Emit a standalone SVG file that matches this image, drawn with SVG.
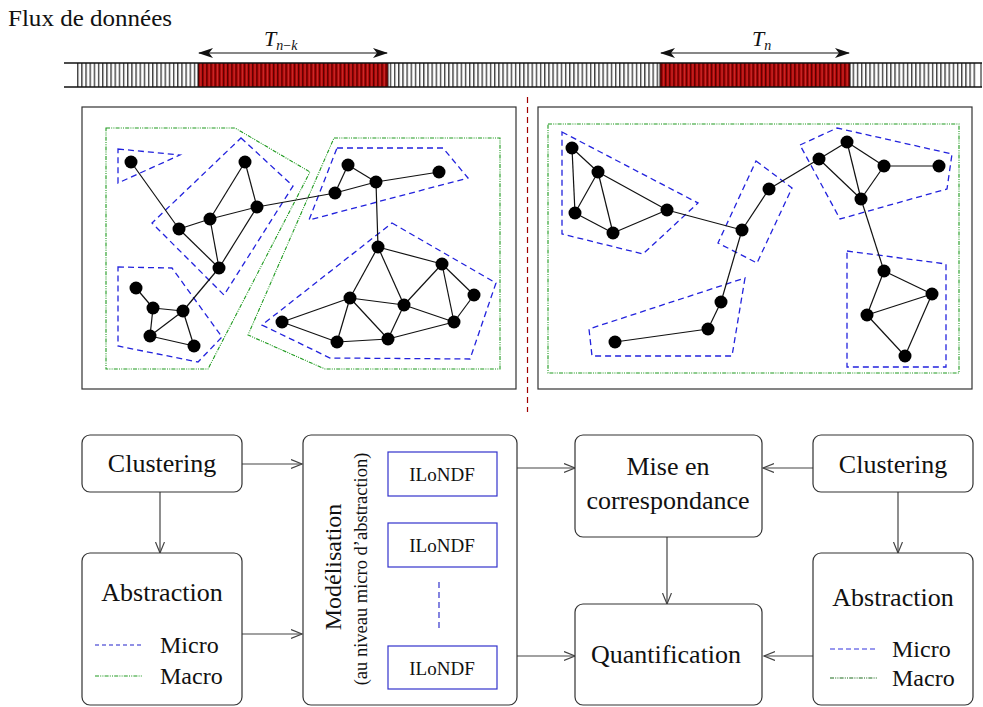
<svg xmlns="http://www.w3.org/2000/svg" width="983" height="707" viewBox="0 0 983 707">
<style>
.t{font-family:"Liberation Serif","Times New Roman",serif;fill:#111}
.box{fill:#fff;stroke:#333;stroke-width:1.2}
.conn{stroke:#444;stroke-width:1.2;fill:none}
.e{stroke:#111;stroke-width:1.2}
.micro{fill:none;stroke:#2222dd;stroke-width:1.3;stroke-dasharray:6,4}
.macro{fill:none;stroke:#1e9a1e;stroke-width:1.1;stroke-dasharray:4,1.2,1,1.2,1,1.2}
.il{fill:#fff;stroke:#3333cc;stroke-width:1.2}
</style>
<defs>
<pattern id="wstripe" patternUnits="userSpaceOnUse" x="77" y="0" width="4.17" height="30">
<rect x="0" y="0" width="4.17" height="30" fill="#fff"/>
<rect x="0" y="0" width="1.8" height="30" fill="#8a8a8a"/>
<rect x="0" y="0" width="0.6" height="30" fill="#222"/>
</pattern>
<pattern id="rstripe" patternUnits="userSpaceOnUse" x="77" y="0" width="4.17" height="30">
<rect x="0" y="0" width="4.17" height="30" fill="#b80a0a"/>
<rect x="0" y="0" width="1.8" height="30" fill="#8e0000"/>
<rect x="2.4" y="0" width="0.6" height="30" fill="#d84040"/>
<rect x="0" y="0" width="0.5" height="30" fill="#300"/>
</pattern>
<marker id="open" markerUnits="userSpaceOnUse" markerWidth="14" markerHeight="12" refX="11" refY="5" orient="auto">
<path d="M0,0.5 L11,5 L0,9.5" fill="none" stroke="#444" stroke-width="1.2"/>
</marker>
<marker id="stealth" markerUnits="userSpaceOnUse" markerWidth="18" markerHeight="12" refX="14" refY="5" orient="auto-start-reverse">
<path d="M0,0 L15,5 L0,10 L4,5 z" fill="#111"/>
</marker>
</defs>
<rect width="983" height="707" fill="#fff"/>

<g id="stream">
<text class="t" x="8" y="26" font-size="24" fill="#333" textLength="164" lengthAdjust="spacingAndGlyphs">Flux de données</text>
<rect x="77" y="63" width="900" height="24" fill="url(#wstripe)"/>
<rect x="198" y="63" width="190" height="24" fill="url(#rstripe)"/>
<rect x="660" y="63" width="190" height="24" fill="url(#rstripe)"/>
<line x1="64" y1="63" x2="982" y2="63" stroke="#111" stroke-width="1.3"/>
<line x1="64" y1="87" x2="982" y2="87" stroke="#111" stroke-width="1.3"/>
<line x1="198" y1="63" x2="198" y2="87" stroke="#111" stroke-width="1"/>
<line x1="388" y1="63" x2="388" y2="87" stroke="#111" stroke-width="1"/>
<line x1="660" y1="63" x2="660" y2="87" stroke="#111" stroke-width="1"/>
<line x1="850" y1="63" x2="850" y2="87" stroke="#111" stroke-width="1"/>
<line x1="981" y1="63" x2="981" y2="87" stroke="#111" stroke-width="1"/>
<line x1="199" y1="53" x2="387" y2="53" stroke="#111" stroke-width="1.2" marker-start="url(#stealth)" marker-end="url(#stealth)"/>
<line x1="661" y1="53" x2="849" y2="53" stroke="#111" stroke-width="1.2" marker-start="url(#stealth)" marker-end="url(#stealth)"/>
<text class="t" x="264" y="46" font-size="22" font-style="italic">T<tspan font-size="14" dy="4">n</tspan><tspan font-size="14" font-style="normal">−</tspan><tspan font-size="14">k</tspan></text>
<text class="t" x="752" y="46" font-size="22" font-style="italic">T<tspan font-size="14" dy="4">n</tspan></text>
<line x1="527.5" y1="97" x2="527.5" y2="412" stroke="#a00000" stroke-width="1.2" stroke-dasharray="6,4"/>
</g>

<g id="graph-left">
<rect x="82" y="107" width="434" height="282" fill="none" stroke="#333" stroke-width="1.2"/>
<polygon class="macro" points="106,128 235,128 310,172 208,369 106,369"/>
<polygon class="macro" points="334,138 500,138 500,369 325,369 248,335"/>
<polygon class="micro" points="118,149 180,155 118,183"/>
<polygon class="micro" points="241,138 293,186 224,295 152,223"/>
<polygon class="micro" points="118,267 172,268 222,337 198,362 118,346"/>
<polygon class="micro" points="337,148 443,148 468,178 309,220"/>
<polygon class="micro" points="392,223 496,283 470,359 330,358 262,325"/>
<g class="e">
<line x1="131" y1="162" x2="179" y2="229"/>
<line x1="179" y1="229" x2="210" y2="219"/>
<line x1="179" y1="229" x2="219" y2="268"/>
<line x1="210" y1="219" x2="245" y2="162"/>
<line x1="210" y1="219" x2="257" y2="207"/>
<line x1="210" y1="219" x2="219" y2="268"/>
<line x1="245" y1="162" x2="257" y2="207"/>
<line x1="257" y1="207" x2="219" y2="268"/>
<line x1="219" y1="268" x2="183" y2="311"/>
<line x1="136" y1="288" x2="153" y2="308"/>
<line x1="153" y1="308" x2="183" y2="311"/>
<line x1="153" y1="308" x2="150" y2="336"/>
<line x1="150" y1="336" x2="183" y2="311"/>
<line x1="183" y1="311" x2="194" y2="346"/>
<line x1="150" y1="336" x2="194" y2="346"/>
<line x1="257" y1="207" x2="335" y2="193"/>
<line x1="335" y1="193" x2="348" y2="165"/>
<line x1="348" y1="165" x2="376" y2="182"/>
<line x1="335" y1="193" x2="376" y2="182"/>
<line x1="376" y1="182" x2="439" y2="172"/>
<line x1="376" y1="182" x2="378" y2="247"/>
<line x1="378" y1="247" x2="442" y2="264"/>
<line x1="378" y1="247" x2="350" y2="298"/>
<line x1="378" y1="247" x2="404" y2="305"/>
<line x1="442" y1="264" x2="404" y2="305"/>
<line x1="442" y1="264" x2="474" y2="295"/>
<line x1="442" y1="264" x2="454" y2="322"/>
<line x1="474" y1="295" x2="454" y2="322"/>
<line x1="350" y1="298" x2="282" y2="322"/>
<line x1="350" y1="298" x2="404" y2="305"/>
<line x1="350" y1="298" x2="337" y2="342"/>
<line x1="350" y1="298" x2="388" y2="339"/>
<line x1="404" y1="305" x2="388" y2="339"/>
<line x1="404" y1="305" x2="454" y2="322"/>
<line x1="282" y1="322" x2="337" y2="342"/>
<line x1="337" y1="342" x2="388" y2="339"/>
<line x1="388" y1="339" x2="454" y2="322"/>
</g>
<g fill="#000">
<circle cx="131" cy="162" r="6.5"/><circle cx="245" cy="162" r="6.5"/><circle cx="257" cy="207" r="6.5"/>
<circle cx="210" cy="219" r="6.5"/><circle cx="179" cy="229" r="6.5"/><circle cx="219" cy="268" r="6.5"/>
<circle cx="136" cy="288" r="6.5"/><circle cx="153" cy="308" r="6.5"/><circle cx="183" cy="311" r="6.5"/>
<circle cx="150" cy="336" r="6.5"/><circle cx="194" cy="346" r="6.5"/><circle cx="282" cy="322" r="6.5"/>
<circle cx="348" cy="165" r="6.5"/><circle cx="335" cy="193" r="6.5"/><circle cx="376" cy="182" r="6.5"/>
<circle cx="439" cy="172" r="6.5"/><circle cx="378" cy="247" r="6.5"/><circle cx="442" cy="264" r="6.5"/>
<circle cx="350" cy="298" r="6.5"/><circle cx="404" cy="305" r="6.5"/><circle cx="474" cy="295" r="6.5"/>
<circle cx="454" cy="322" r="6.5"/><circle cx="337" cy="342" r="6.5"/><circle cx="388" cy="339" r="6.5"/>
</g>
</g>

<g id="graph-right">
<rect x="538" y="107" width="434" height="282" fill="none" stroke="#333" stroke-width="1.2"/>
<rect class="macro" x="548" y="124" width="411" height="249"/>
<polygon class="micro" points="562,132 698,203 643,254 562,234"/>
<polygon class="micro" points="756,161 792,188 757,263 718,243"/>
<polygon class="micro" points="800,145 837,128 952,154 947,189 840,219"/>
<polygon class="micro" points="847,251 946,264 946,367 847,367"/>
<polygon class="micro" points="745,278 732,356 592,356 589,329"/>
<g class="e">
<line x1="572" y1="148" x2="598" y2="172"/>
<line x1="572" y1="148" x2="575" y2="213"/>
<line x1="598" y1="172" x2="575" y2="213"/>
<line x1="598" y1="172" x2="613" y2="233"/>
<line x1="575" y1="213" x2="613" y2="233"/>
<line x1="598" y1="172" x2="667" y2="210"/>
<line x1="613" y1="233" x2="667" y2="210"/>
<line x1="667" y1="210" x2="742" y2="230"/>
<line x1="742" y1="230" x2="721" y2="302"/>
<line x1="721" y1="302" x2="708" y2="329"/>
<line x1="708" y1="329" x2="615" y2="342"/>
<line x1="742" y1="230" x2="769" y2="189"/>
<line x1="769" y1="189" x2="819" y2="159"/>
<line x1="819" y1="159" x2="847" y2="142"/>
<line x1="819" y1="159" x2="861" y2="199"/>
<line x1="847" y1="142" x2="861" y2="199"/>
<line x1="847" y1="142" x2="884" y2="166"/>
<line x1="884" y1="166" x2="861" y2="199"/>
<line x1="884" y1="166" x2="939" y2="166"/>
<line x1="861" y1="199" x2="884" y2="271"/>
<line x1="884" y1="271" x2="932" y2="294"/>
<line x1="884" y1="271" x2="867" y2="315"/>
<line x1="867" y1="315" x2="932" y2="294"/>
<line x1="867" y1="315" x2="905" y2="356"/>
<line x1="932" y1="294" x2="905" y2="356"/>
</g>
<g fill="#000">
<circle cx="572" cy="148" r="6.5"/><circle cx="598" cy="172" r="6.5"/><circle cx="575" cy="213" r="6.5"/>
<circle cx="613" cy="233" r="6.5"/><circle cx="667" cy="210" r="6.5"/><circle cx="742" cy="230" r="6.5"/>
<circle cx="721" cy="302" r="6.5"/><circle cx="708" cy="329" r="6.5"/><circle cx="615" cy="342" r="6.5"/>
<circle cx="769" cy="189" r="6.5"/><circle cx="819" cy="159" r="6.5"/><circle cx="847" cy="142" r="6.5"/>
<circle cx="884" cy="166" r="6.5"/><circle cx="939" cy="166" r="6.5"/><circle cx="861" cy="199" r="6.5"/>
<circle cx="884" cy="271" r="6.5"/><circle cx="932" cy="294" r="6.5"/><circle cx="867" cy="315" r="6.5"/>
<circle cx="905" cy="356" r="6.5"/>
</g>
</g>

<g id="connectors">
<line class="conn" x1="160" y1="492" x2="160" y2="553" marker-end="url(#open)"/>
<line class="conn" x1="242" y1="464" x2="302" y2="464" marker-end="url(#open)"/>
<line class="conn" x1="242" y1="634" x2="302" y2="634" marker-end="url(#open)"/>
<line class="conn" x1="517" y1="468" x2="575" y2="468" marker-end="url(#open)"/>
<line class="conn" x1="517" y1="656" x2="575" y2="656" marker-end="url(#open)"/>
<line class="conn" x1="813" y1="468" x2="763" y2="468" marker-end="url(#open)"/>
<line class="conn" x1="813" y1="656" x2="764" y2="656" marker-end="url(#open)"/>
<line class="conn" x1="667" y1="537" x2="667" y2="604" marker-end="url(#open)"/>
<line class="conn" x1="898" y1="492" x2="898" y2="553" marker-end="url(#open)"/>
</g>

<g id="clustering-left">
<rect class="box" x="82" y="435" width="160" height="57" rx="8"/>
<text class="t" x="162" y="472" font-size="26" text-anchor="middle">Clustering</text>
</g>
<g id="abstraction-left">
<rect class="box" x="82" y="553" width="160" height="152" rx="8"/>
<text class="t" x="162" y="601" font-size="26" text-anchor="middle">Abstraction</text>
<line x1="95" y1="645" x2="143" y2="645" stroke="#2222cc" stroke-width="1.1" stroke-dasharray="4,3"/>
<text class="t" x="160" y="653" font-size="24">Micro</text>
<line class="macro" x1="95" y1="676" x2="143" y2="676"/>
<text class="t" x="160" y="684" font-size="24">Macro</text>
</g>
<g id="modelisation">
<rect class="box" x="303" y="435" width="214" height="270" rx="8"/>
<text class="t" transform="translate(341,567) rotate(-90)" font-size="24" text-anchor="middle" fill="#555">Modélisation</text>
<text class="t" transform="translate(367,569) rotate(-90)" font-size="18.5" text-anchor="middle">(au niveau micro d’abstraction)</text>
<g id="ilondf-1"><rect class="il" x="388" y="452" width="109" height="44"/><text class="t" x="442" y="481" font-size="19" text-anchor="middle" fill="#1a1a9a">ILoNDF</text></g>
<g id="ilondf-2"><rect class="il" x="388" y="523" width="109" height="44"/><text class="t" x="442" y="552" font-size="19" text-anchor="middle" fill="#1a1a9a">ILoNDF</text></g>
<line x1="439" y1="582" x2="439" y2="628" stroke="#3333cc" stroke-width="1.2" stroke-dasharray="6,4"/>
<g id="ilondf-3"><rect class="il" x="388" y="646" width="109" height="43"/><text class="t" x="442" y="675" font-size="19" text-anchor="middle" fill="#1a1a9a">ILoNDF</text></g>
</g>
<g id="mise">
<rect class="box" x="575" y="435" width="187" height="102" rx="8"/>
<text class="t" x="668" y="475" font-size="26" text-anchor="middle">Mise en</text>
<text class="t" x="668" y="509" font-size="26" text-anchor="middle">correspondance</text>
</g>
<g id="quantification">
<rect class="box" x="575" y="604" width="187" height="101" rx="8"/>
<text class="t" x="666" y="663" font-size="26" text-anchor="middle">Quantification</text>
</g>
<g id="clustering-right">
<rect class="box" x="813" y="435" width="160" height="57" rx="8"/>
<text class="t" x="893" y="473" font-size="26" text-anchor="middle">Clustering</text>
</g>
<g id="abstraction-right">
<rect class="box" x="813" y="553" width="160" height="152" rx="8"/>
<text class="t" x="893" y="606" font-size="26" text-anchor="middle">Abstraction</text>
<line x1="830" y1="649" x2="877" y2="649" stroke="#3333dd" stroke-width="1.1" stroke-dasharray="5,3"/>
<text class="t" x="892" y="657" font-size="24">Micro</text>
<line class="macro" x1="830" y1="678" x2="877" y2="678" style="stroke:#1a6a1a"/>
<text class="t" x="892" y="686" font-size="24">Macro</text>
</g>
</svg>
